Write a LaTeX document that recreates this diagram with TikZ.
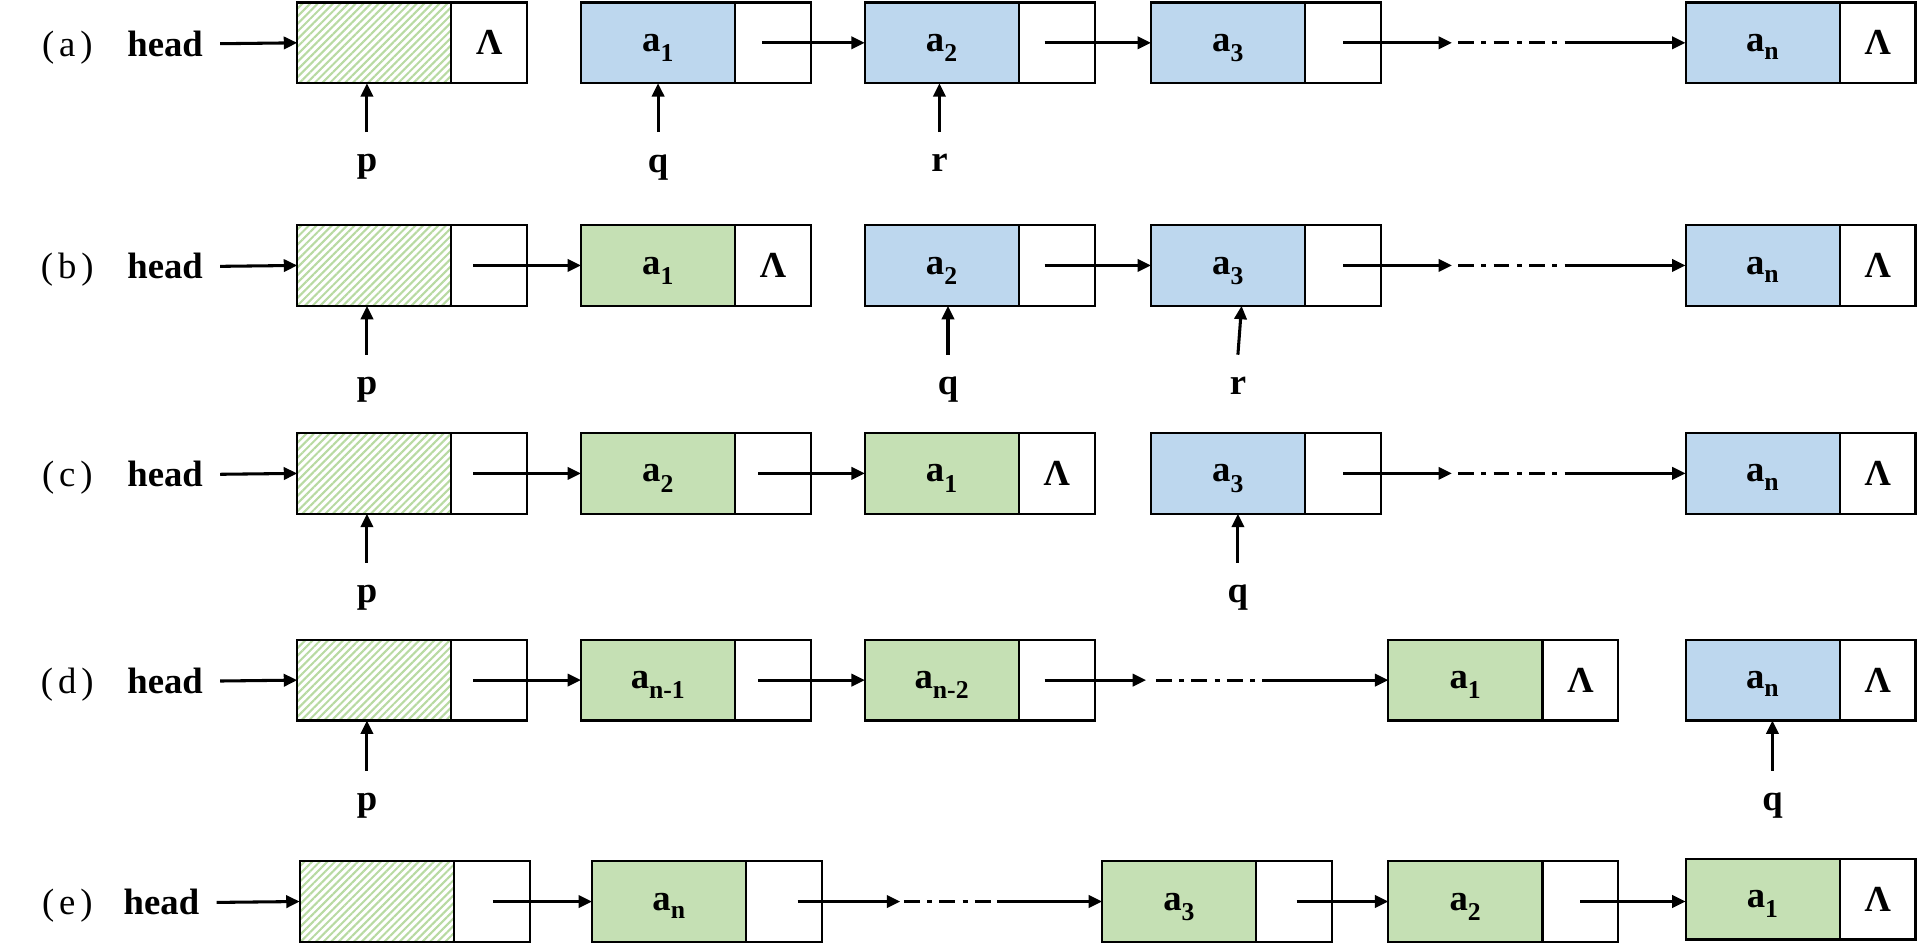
\documentclass[tikz,border=0pt]{standalone}
\usepackage{fontspec}
\setmainfont{Liberation Serif}
\usetikzlibrary{arrows.meta,patterns.meta,calc}
\definecolor{bluef}{HTML}{BDD7EE}
\definecolor{greenf}{HTML}{C5E0B4}
\definecolor{hatchc}{HTML}{B8DAA2}
\newcommand\sub[1]{\raisebox{-3pt}{\textsubscript{#1}}}
\newcommand\Lam{Λ}
\newcommand\lnode[6]{%
  \node[#4] (#1) at (#2,#3) {#5};
  \node[ptrcell] (#1p) at (#1.east) {#6};}
\tikzset{
  cell/.style={draw=black, line width=1.8pt, minimum height=66pt, inner sep=0pt, outer sep=0pt,
    font=\bfseries\fontsize{30}{30}\selectfont},
  datcell/.style={cell, minimum width=126pt, text depth=0pt},
  ptrcell/.style={cell, minimum width=62pt, anchor=west},
  bluebox/.style={datcell, fill=bluef},
  greenbox/.style={datcell, fill=greenf},
  hatchbox/.style={datcell, pattern={Lines[angle=45,distance=4.4pt,line width=1.7pt]}, pattern color=hatchc},
  arr/.style={line width=2.5pt, -{Triangle[length=11pt,width=10pt]}},
  dd/.style={line width=2.5pt, dash pattern=on 13pt off 6pt on 4pt off 6pt},
  ptrlbl/.style={font=\bfseries\fontsize{30}{30}\selectfont, inner ysep=18pt, inner xsep=2pt, anchor=north},
  rowlbl/.style={font=\fontsize{30}{30}\selectfont, anchor=base, inner sep=0pt},
  headlbl/.style={font=\bfseries\fontsize{30}{30}\selectfont, anchor=base, inner ysep=0pt, inner xsep=14pt},
}
\begin{document}
\begin{tikzpicture}[x=1pt,y=-1pt]
\useasboundingbox (0,0) rectangle (1568,773);

% ---------- row (a) ----------
\node[rowlbl] (la) at (55,46) {(\hspace{4pt}a\hspace{4pt})};
\node[headlbl] (hda) at (135,46) {head};
\lnode{ah}{306}{35}{hatchbox}{}{\Lam}
\lnode{a1}{538}{35}{bluebox}{a\sub{1}}{}
\lnode{a2}{770}{35}{bluebox}{a\sub{2}}{}
\lnode{a3}{1004}{35}{bluebox}{a\sub{3}}{}
\lnode{an}{1441}{35}{bluebox}{a\sub{n}}{\Lam}
\coordinate (ada) at (1187,35);
\coordinate (adb) at (1290,35);
\draw[arr] (hda.east) -- (ah.west);
\draw[arr] ([xshift=-9pt]a1p.center) -- (a2.west);
\draw[arr] ([xshift=-10pt]a2p.center) -- (a3.west);
\draw[arr] (a3p.center) -- (ada);
\draw[dd] ([xshift=5pt]ada) -- (adb);
\draw[arr] (adb) -- (an.west);
\node[ptrlbl] (pa) at (300,108) {p};
\node[ptrlbl] (qa) at (538,108) {q};
\node[ptrlbl] (ra) at (768,108) {r};
\draw[arr] (pa.north) -- (pa.north |- ah.south);
\draw[arr] (qa.north) -- (qa.north |- a1.south);
\draw[arr] (ra.north) -- (ra.north |- a2.south);

% ---------- row (b) ----------
\node[rowlbl] (lb) at (55,228) {(\hspace{4pt}b\hspace{4pt})};
\node[headlbl] (hdb) at (135,228) {head};
\lnode{bh}{306}{217}{hatchbox}{}{}
\lnode{b1}{538}{217}{greenbox}{a\sub{1}}{\Lam}
\lnode{b2}{770}{217}{bluebox}{a\sub{2}}{}
\lnode{b3}{1004}{217}{bluebox}{a\sub{3}}{}
\lnode{bn}{1441}{217}{bluebox}{a\sub{n}}{\Lam}
\coordinate (bda) at (1187,217);
\coordinate (bdb) at (1290,217);
\draw[arr] (hdb.east) -- (bh.west);
\draw[arr] ([xshift=-13pt]bhp.center) -- (b1.west);
\draw[arr] ([xshift=-10pt]b2p.center) -- (b3.west);
\draw[arr] (b3p.center) -- (bda);
\draw[dd] ([xshift=5pt]bda) -- (bdb);
\draw[arr] (bdb) -- (bn.west);
\node[ptrlbl] (pb) at (300,290) {p};
\node[ptrlbl] (qb) at (775,290) {q};
\node[ptrlbl] (rb) at (1012,290) {r};
\draw[arr] (pb.north) -- (pb.north |- bh.south);
\draw[arr] (qb.north) -- (qb.north |- b2.south);
\draw[arr] (rb.north) -- ([xshift=3pt]rb.north |- b3.south);

% ---------- row (c) ----------
\node[rowlbl] (lc) at (55,398) {(\hspace{4pt}c\hspace{4pt})};
\node[headlbl] (hdc) at (135,398) {head};
\lnode{ch}{306}{387}{hatchbox}{}{}
\lnode{c2}{538}{387}{greenbox}{a\sub{2}}{}
\lnode{c1}{770}{387}{greenbox}{a\sub{1}}{\Lam}
\lnode{c3}{1004}{387}{bluebox}{a\sub{3}}{}
\lnode{cn}{1441}{387}{bluebox}{a\sub{n}}{\Lam}
\coordinate (cda) at (1187,387);
\coordinate (cdb) at (1290,387);
\draw[arr] (hdc.east) -- (ch.west);
\draw[arr] ([xshift=-13pt]chp.center) -- (c2.west);
\draw[arr] ([xshift=-12pt]c2p.center) -- (c1.west);
\draw[arr] (c3p.center) -- (cda);
\draw[dd] ([xshift=5pt]cda) -- (cdb);
\draw[arr] (cdb) -- (cn.west);
\node[ptrlbl] (pc) at (300,460) {p};
\node[ptrlbl] (qc) at (1012,460) {q};
\draw[arr] (pc.north) -- (pc.north |- ch.south);
\draw[arr] (qc.north) -- (qc.north |- c3.south);

% ---------- row (d) ----------
\node[rowlbl] (ld) at (55,567) {(\hspace{4pt}d\hspace{4pt})};
\node[headlbl] (hdd) at (135,567) {head};
\lnode{dh}{306}{556}{hatchbox}{}{}
\lnode{dm}{538}{556}{greenbox}{a\sub{n-1}}{}
\lnode{dk}{770}{556}{greenbox}{a\sub{n-2}}{}
\lnode{d1}{1198}{556}{greenbox}{a\sub{1}}{\Lam}
\lnode{dn}{1441}{556}{bluebox}{a\sub{n}}{\Lam}
\coordinate (dda) at (937,556);
\coordinate (ddb) at (1045,556);
\draw[arr] (hdd.east) -- (dh.west);
\draw[arr] ([xshift=-13pt]dhp.center) -- (dm.west);
\draw[arr] ([xshift=-12pt]dmp.center) -- (dk.west);
\draw[arr] ([xshift=-10pt]dkp.center) -- (dda);
\draw[dd] ([xshift=8pt]dda) -- (ddb);
\draw[arr] (ddb) -- (d1.west);
\node[ptrlbl] (pd) at (300,630) {p};
\node[ptrlbl] (qd) at (1449,630) {q};
\draw[arr] (pd.north) -- (pd.north |- dh.south);
\draw[arr] (qd.north) -- (qd.north |- dn.south);

% ---------- row (e) ----------
\node[rowlbl] (le) at (55,748) {(\hspace{4pt}e\hspace{4pt})};
\node[headlbl] (hde) at (132,748) {head};
\lnode{eh}{308}{737}{hatchbox}{}{}
\lnode{en}{547}{737}{greenbox}{a\sub{n}}{}
\lnode{e3}{964}{737}{greenbox}{a\sub{3}}{}
\lnode{e2}{1198}{737}{greenbox}{a\sub{2}}{}
\lnode{e1}{1441}{735}{greenbox}{a\sub{1}}{\Lam}
\coordinate (eda) at (736,737);
\coordinate (edb) at (815,737);
\draw[arr] (hde.east) -- (eh.west);
\draw[arr] ([xshift=1pt]ehp.center) -- (en.west);
\draw[arr] ([xshift=11pt]enp.center) -- (eda);
\draw[dd] ([xshift=3pt]eda) -- (edb);
\draw[arr] (edb) -- (e3.west);
\draw[arr] ([xshift=2pt]e3p.center) -- (e2.west);
\draw[arr] (e2p.center) -- (e2p.center -| e1.west);
\end{tikzpicture}
\end{document}
